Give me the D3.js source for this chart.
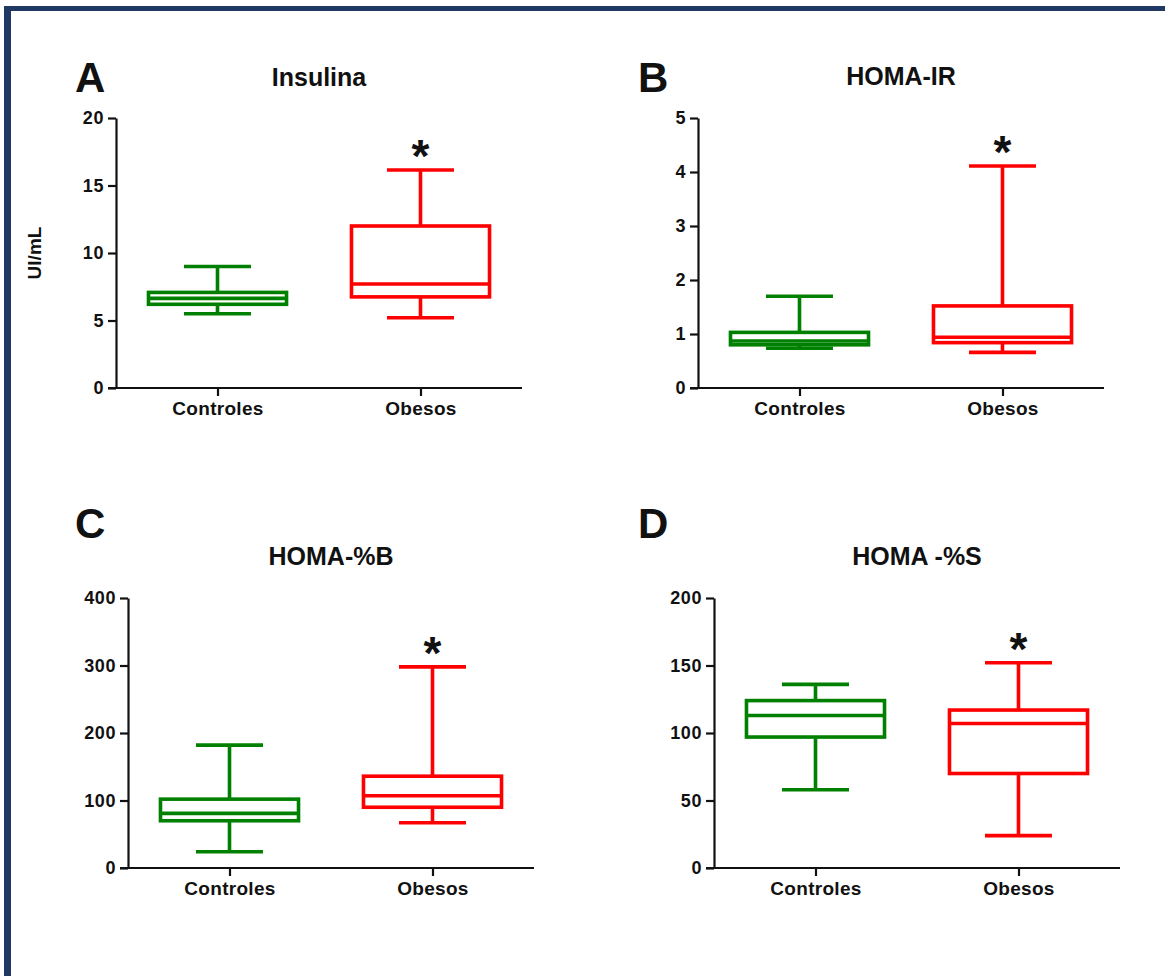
<!DOCTYPE html>
<html>
<head>
<meta charset="utf-8">
<script src="https://cdn.jsdelivr.net/npm/d3@7"></script>
<style>
body { margin: 0; background: #fff; }
svg text { font-family: "Liberation Sans", Arial, sans-serif; font-weight: bold; fill: #111; }
</style>
</head>
<body>
<div id="chart"></div>
<script>
// groups and panel labels
var groups = ['Controles', 'Obesos'];
var letters = ['A', 'B', 'C', 'D'];
var titles = ['Insulina', 'HOMA-IR', 'HOMA-%B', 'HOMA -%S'];
var yMax = [20, 5, 400, 200];
var yStep = [5, 1, 100, 50];
var yTitles = ['UI/mL', '', '', ''];

// box values per group: [min, q1, median, q3, max]
var insulina = [[5.5, 6.2, 6.64, 7.08, 9.0], [5.2, 6.75, 7.7, 12.0, 16.15]];
var homaIR = [[0.735, 0.80, 0.87, 1.03, 1.70], [0.66, 0.84, 0.94, 1.52, 4.11]];
var homaB = [[24, 70, 81, 102, 182], [67, 90, 107, 136, 298]];
var homaS = [[58, 97, 113, 124, 136], [24, 70, 107, 117, 152]];
var series = [insulina, homaIR, homaB, homaS];
var significant = [false, true]; // asterisk above Obesos

var colors = ['#008000', '#ff0000'];

// panel placement (left edge of y axis, top, bottom)
var plotLeft = [116, 698, 128, 714],
    plotTop = [118, 118, 598, 598],
    plotBottom = [388, 388, 868, 868],
    plotWidth = 406,
    letterX = [75, 638, 75, 638],
    letterY = [92, 92, 538, 538],
    titleY = [86, 85, 565, 565];

var width = 1165, height = 976;

var svg = d3.select('#chart').append('svg')
    .attr('width', width).attr('height', height);

svg.append('rect').attr('width', width).attr('height', height).attr('fill', '#fff');

// dark frame along top and left edge
svg.append('rect').attr('x', 4).attr('y', 6).attr('width', width - 4).attr('height', 5).attr('fill', '#1f3864');
svg.append('rect').attr('x', 4).attr('y', 6).attr('width', 7).attr('height', height - 6).attr('fill', '#1f3864');

letters.forEach(function(letter, i) {
    var x = d3.scalePoint()
        .domain(groups)
        .range([plotLeft[i], plotLeft[i] + plotWidth])
        .padding(0.5);

    var y = d3.scaleLinear()
        .domain([0, yMax[i]])
        .range([plotBottom[i], plotTop[i]]);

    var step = x.step(),
        boxW = step * 0.68,
        capW = step * 0.33;

    var g = svg.append('g').attr('class', 'panel');

    // letter + title
    g.append('text')
        .attr('x', letterX[i]).attr('y', letterY[i])
        .style('font-size', '42px')
        .text(letter);

    g.append('text')
        .attr('x', plotLeft[i] + plotWidth / 2).attr('y', titleY[i])
        .attr('text-anchor', 'middle')
        .style('font-size', '25px')
        .text(titles[i]);

    if (yTitles[i]) {
        g.append('text')
            .attr('transform', 'translate(' + 41 + ',' + ((plotTop[i] + plotBottom[i]) / 2) + ')rotate(-90)')
            .attr('text-anchor', 'middle')
            .style('font-size', '19px')
            .text(yTitles[i]);
    }

    // axes
    var yAxis = d3.axisLeft(y)
        .tickValues(d3.range(0, yMax[i] + yStep[i] / 2, yStep[i]))
        .tickFormat(d3.format('d'))
        .tickSize(8).tickSizeOuter(0).tickPadding(4);

    var xAxis = d3.axisBottom(x)
        .tickSize(8).tickSizeOuter(0).tickPadding(6);

    var ya = g.append('g')
        .attr('transform', 'translate(' + plotLeft[i] + ',0)')
        .call(yAxis);
    ya.selectAll('text').style('font-size', '18px').style('letter-spacing', '0.6px');

    var xa = g.append('g')
        .attr('transform', 'translate(0,' + plotBottom[i] + ')')
        .call(xAxis);
    xa.selectAll('text').style('font-size', '19px').style('letter-spacing', '0.3px');

    g.selectAll('.domain, .tick line').attr('stroke', '#111').attr('stroke-width', 2.2);
    xa.select('.domain').attr('d', 'M' + (plotLeft[i] - 8) + ',0H' + (plotLeft[i] + plotWidth));

    // boxes
    var box = g.selectAll('.box')
        .data(series[i])
        .enter().append('g')
        .attr('class', 'box')
        .attr('stroke', function(d, j) { return colors[j]; })
        .attr('stroke-width', 3.6)
        .attr('fill', 'none');

    box.each(function(d, j) {
        var b = d3.select(this),
            cx = x(groups[j]);
        // whiskers
        b.append('line').attr('x1', cx).attr('x2', cx).attr('y1', y(d[3])).attr('y2', y(d[4]));
        b.append('line').attr('x1', cx).attr('x2', cx).attr('y1', y(d[1])).attr('y2', y(d[0]));
        b.append('line').attr('x1', cx - capW / 2).attr('x2', cx + capW / 2).attr('y1', y(d[4])).attr('y2', y(d[4]));
        b.append('line').attr('x1', cx - capW / 2).attr('x2', cx + capW / 2).attr('y1', y(d[0])).attr('y2', y(d[0]));
        // box + median
        b.append('rect')
            .attr('x', cx - boxW / 2).attr('width', boxW)
            .attr('y', y(d[3])).attr('height', y(d[1]) - y(d[3]));
        b.append('line').attr('x1', cx - boxW / 2).attr('x2', cx + boxW / 2).attr('y1', y(d[2])).attr('y2', y(d[2]));

        if (significant[j]) {
            g.append('text')
                .attr('x', cx).attr('y', y(d[4]) + 2)
                .attr('text-anchor', 'middle')
                .style('font-size', '46px')
                .text('*');
        }
    });
});
</script>
</body>
</html>
